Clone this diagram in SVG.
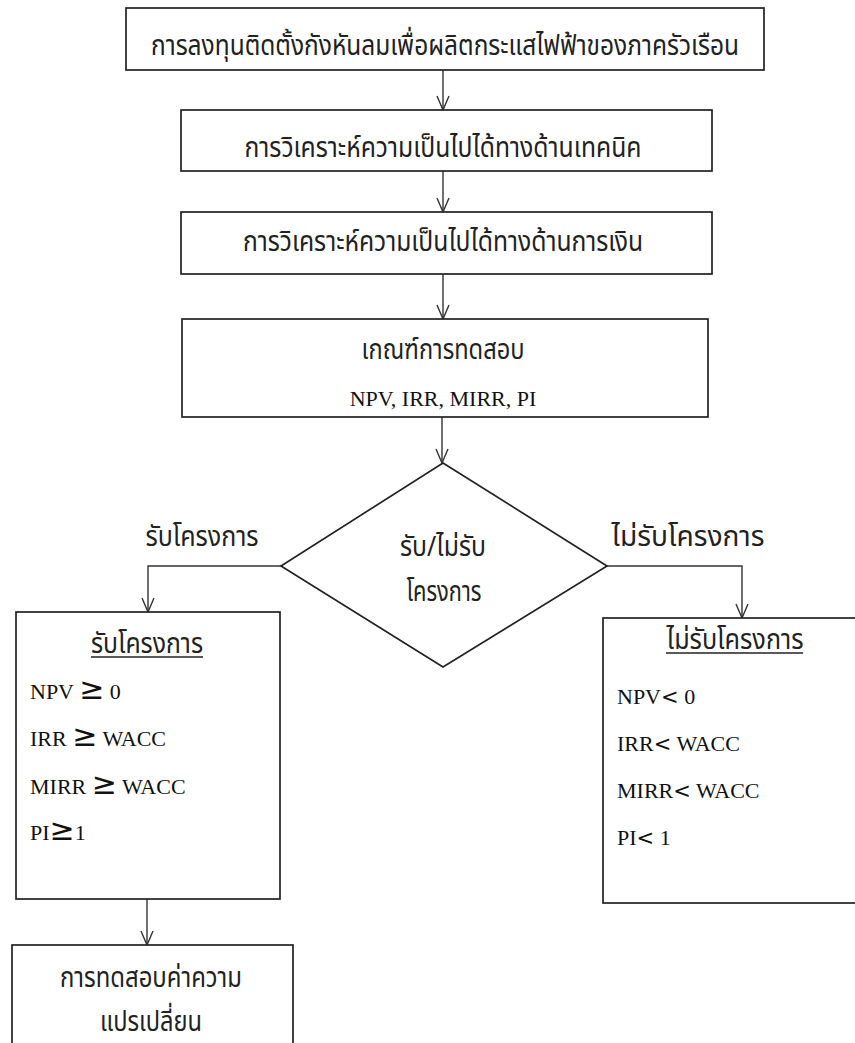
<svg xmlns="http://www.w3.org/2000/svg" width="855" height="1043" viewBox="0 0 855 1043">
<style>
.box{fill:#fff;stroke:#222;stroke-width:1.7}
.con{fill:none;stroke:#333;stroke-width:1.4}
.th{font-family:"Noto Sans Thai","Noto Serif Thai","Loma","Garuda","Tlwg Typo","Norasi","Kinnari","Laksaman","Noto Sans",sans-serif;font-size:28px;fill:#222;text-anchor:middle}
.en{font-family:"Liberation Serif","Times New Roman",serif;font-size:22px;fill:#111}
.ge{font-family:"DejaVu Sans",sans-serif;font-size:30px}
.lt{font-family:"DejaVu Sans",sans-serif;font-size:21px}
.u{fill:none;stroke:#222;stroke-width:1.3}
</style>
<defs>
<marker id="arr" viewBox="-16 -8 17 16" refX="0" refY="0" markerWidth="17" markerHeight="16" markerUnits="userSpaceOnUse" orient="auto">
<path d="M-14,-6 L0,0 L-14,6" fill="none" stroke="#333" stroke-width="1.4"/>
</marker>
</defs>
<g id="connectors">
<path class="con" d="M443,70 V110" marker-end="url(#arr)"/>
<path class="con" d="M443,171 V212" marker-end="url(#arr)"/>
<path class="con" d="M443,274 V319" marker-end="url(#arr)"/>
<path class="con" d="M442,417 V463" marker-end="url(#arr)"/>
<path class="con" d="M281,566 H148 V612" marker-end="url(#arr)"/>
<path class="con" d="M607,566 H742 V618" marker-end="url(#arr)"/>
<path class="con" d="M147,899 V945" marker-end="url(#arr)"/>
</g>
<g id="n1">
<rect class="box" x="126" y="8" width="638" height="62"/>
<text class="th" x="445" y="55" textLength="588" lengthAdjust="spacingAndGlyphs">การลงทุนติดตั้งกังหันลมเพื่อผลิตกระแสไฟฟ้าของภาครัวเรือน</text>
</g>
<g id="n2">
<rect class="box" x="181" y="110" width="531" height="61"/>
<text class="th" x="443" y="157" textLength="397" lengthAdjust="spacingAndGlyphs">การวิเคราะห์ความเป็นไปได้ทางด้านเทคนิค</text>
</g>
<g id="n3">
<rect class="box" x="181" y="212" width="531" height="62"/>
<text class="th" x="443" y="251" textLength="400" lengthAdjust="spacingAndGlyphs">การวิเคราะห์ความเป็นไปได้ทางด้านการเงิน</text>
</g>
<g id="n4">
<rect class="box" x="182" y="319" width="526" height="98"/>
<text class="th" x="443" y="359" textLength="163" lengthAdjust="spacingAndGlyphs">เกณฑ์การทดสอบ</text>
<text class="en" x="443" y="406" text-anchor="middle" font-size="23.5">NPV, IRR, MIRR, PI</text>
</g>
<g id="decision">
<polygon class="box" points="443,463 607,566 443,667 281,566"/>
<text class="th" x="443" y="556" textLength="86" lengthAdjust="spacingAndGlyphs">รับ/ไม่รับ</text>
<text class="th" x="444" y="601" textLength="75" lengthAdjust="spacingAndGlyphs">โครงการ</text>
</g>
<g id="label-accept">
<text class="th" x="202" y="546" textLength="113" lengthAdjust="spacingAndGlyphs">รับโครงการ</text>
</g>
<g id="label-reject">
<text class="th" x="688" y="546" textLength="153" lengthAdjust="spacingAndGlyphs">ไม่รับโครงการ</text>
</g>
<g id="accept">
<rect class="box" x="16" y="612" width="264" height="287"/>
<text class="th" x="147" y="653" textLength="112" lengthAdjust="spacingAndGlyphs">รับโครงการ</text>
<line class="u" x1="91" y1="657" x2="203" y2="657"/>
<text class="en" x="30" y="699">NPV <tspan class="ge">≥</tspan> 0</text>
<text class="en" x="30" y="746">IRR <tspan class="ge">≥</tspan> WACC</text>
<text class="en" x="30" y="794">MIRR <tspan class="ge">≥</tspan> WACC</text>
<text class="en" x="30" y="840">PI<tspan class="ge">≥</tspan>1</text>
</g>
<g id="reject">
<rect class="box" x="603" y="618" width="260" height="285"/>
<text class="th" x="735" y="649" textLength="137" lengthAdjust="spacingAndGlyphs">ไม่รับโครงการ</text>
<line class="u" x1="666" y1="653" x2="803" y2="653"/>
<text class="en" x="617" y="704">NPV<tspan class="lt">&lt;</tspan> 0</text>
<text class="en" x="617" y="751">IRR<tspan class="lt">&lt;</tspan> WACC</text>
<text class="en" x="617" y="798">MIRR<tspan class="lt">&lt;</tspan> WACC</text>
<text class="en" x="617" y="845">PI<tspan class="lt">&lt;</tspan> 1</text>
</g>
<g id="sensitivity">
<rect class="box" x="12" y="945" width="281" height="110"/>
<text class="th" x="151" y="987" textLength="182" lengthAdjust="spacingAndGlyphs">การทดสอบค่าความ</text>
<text class="th" x="151" y="1031" textLength="102" lengthAdjust="spacingAndGlyphs">แปรเปลี่ยน</text>
</g>
</svg>
